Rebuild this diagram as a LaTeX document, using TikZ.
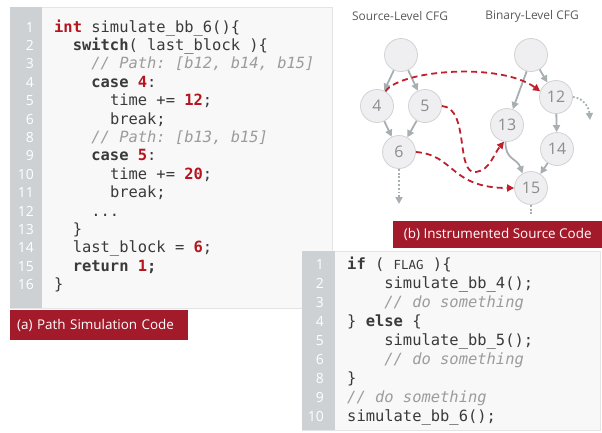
\documentclass[tikz,border=0pt]{standalone}
\usepackage{fontspec}
\setsansfont{Open Sans}
\setmonofont{DejaVu Sans Mono}
\usepackage{xcolor}
\usetikzlibrary{arrows.meta, positioning, calc}

\definecolor{panelbg}{HTML}{F8F8F8}
\definecolor{panelline}{HTML}{E4E4E4}
\definecolor{gutter}{HTML}{CDD1D4}
\definecolor{capred}{HTML}{A31B2B}
\definecolor{codegray}{HTML}{3A3A3A}
\definecolor{cmtgray}{HTML}{9C9C9C}
\definecolor{numred}{HTML}{B4151F}
\definecolor{nodefill}{HTML}{EFEFF1}
\definecolor{nodedraw}{HTML}{D2D2D2}
\definecolor{nodetext}{HTML}{8C8C8C}
\definecolor{edgegray}{HTML}{A8AFB2}
\definecolor{dashred}{HTML}{C01F2C}
\definecolor{titlegray}{HTML}{5A5A5A}

\newcommand{\kw}[1]{\textbf{#1}}
\newcommand{\cnum}[1]{\textcolor{numred}{\textbf{#1}}}
\newcommand{\cmt}[1]{\textcolor{cmtgray}{\itshape #1}}

\tikzset{
    codeline/.style={anchor=mid west, inner sep=0pt, text=codegray,
        font=\ttfamily\fontsize{15.5}{17}\selectfont},
    lineno/.style={anchor=mid east, inner sep=0pt, text=white,
        font=\sffamily\fontsize{14}{16}\selectfont},
    cfgnode/.style={circle, minimum size=33bp, inner sep=0pt, fill=nodefill,
        draw=nodedraw, line width=0.8bp, text=nodetext,
        font=\sffamily\fontsize{16}{18}\selectfont},
    cfgedge/.style={draw=edgegray, line width=1.8bp,
        -{Triangle[length=7bp,width=7bp]}},
    pathedge/.style={draw=dashred, line width=1.8bp, dash pattern=on 6bp off 4bp,
        -{Triangle[length=7bp,width=7bp]}},
    caption/.style={fill=capred, text=white, inner sep=0pt,
        font=\sffamily\fontsize{13.5}{15}\selectfont},
    cfgtitle/.style={text=titlegray, font=\sffamily\fontsize{12}{14}\selectfont}
}

\begin{document}
\begin{tikzpicture}[x=1bp, y=-1bp]
    \useasboundingbox (0,0) rectangle (602,432);

    % (a) path simulation code
    \draw[fill=panelbg, draw=panelline] (10,7) rectangle (332,308);
    \fill[gutter] (10,7) rectangle (42,308);
    \foreach \n [count=\i from 0] in {1,2,3,4,5,6,8,9,10,11,12,13,14,15,16}
        \node[lineno] (la\n) at (34, 30+18.4*\i) {\n};
    \node[codeline] (ca1) at (54, 30) {\cnum{int} simulate\_bb\_6()\{};
    \node[codeline] (ca2) at (54+2*9.3, 48.4) {\kw{switch}( last\_block )\{};
    \node[codeline] (ca3) at (54+4*9.3, 66.8) {\cmt{// Path: [b12, b14, b15]}};
    \node[codeline] (ca4) at (54+4*9.3, 85.2) {\kw{case} \cnum{4}:};
    \node[codeline] (ca5) at (54+6*9.3, 103.6) {time += \cnum{12};};
    \node[codeline] (ca6) at (54+6*9.3, 122) {break;};
    \node[codeline] (ca8) at (54+4*9.3, 140.4) {\cmt{// Path: [b13, b15]}};
    \node[codeline] (ca9) at (54+4*9.3, 158.8) {\kw{case} \cnum{5}:};
    \node[codeline] (ca10) at (54+6*9.3, 177.2) {time += \cnum{20};};
    \node[codeline] (ca11) at (54+6*9.3, 195.6) {break;};
    \node[codeline] (ca12) at (54+4*9.3, 214) {...};
    \node[codeline] (ca13) at (54+2*9.3, 232.4) {\}};
    \node[codeline] (ca14) at (54+2*9.3, 250.8) {last\_block = \cnum{6};};
    \node[codeline] (ca15) at (54+2*9.3, 269.2) {\kw{return} \cnum{1}\kw{;}};
    \node[codeline] (ca16) at (54, 287.6) {\}};
    \node[caption, minimum width=178bp, minimum height=30bp, anchor=north west,
        text width=164bp, align=left] (capa) at (10,310) {(a) Path Simulation Code};

    % CFGs
    \node[cfgtitle] (srctitle) at (400,16) {Source-Level CFG};
    \node[cfgtitle] (bintitle) at (532,16) {Binary-Level CFG};

    \node[cfgnode] (s0) at (401,55) {};
    \node[cfgnode] (s4) at (377,106) {4};
    \node[cfgnode] (s5) at (425,106) {5};
    \node[cfgnode] (s6) at (399,152) {6};
    \node[cfgnode] (b0) at (531,55) {};
    \node[cfgnode] (b12) at (556,97) {12};
    \node[cfgnode] (b13) at (507,125) {13};
    \node[cfgnode] (b14) at (557,149) {14};
    \node[cfgnode] (b15) at (531,188) {15};
    \coordinate (s6out) at (399,204);
    \coordinate (b12out) at (590,120);
    \coordinate (b15out) at (531,214);

    \draw[cfgedge] (s0) -- (s4);
    \draw[cfgedge] (s0) -- (s5);
    \draw[cfgedge] (s4) -- (s6);
    \draw[cfgedge] (s5) -- (s6);
    \draw[cfgedge] (b0) -- (b12);
    \draw[cfgedge] (b0.-105) -- (b13);
    \draw[cfgedge] (b12) -- (b14);
    \draw[cfgedge] (b14) -- (b15);
    \draw[cfgedge] (b13.-95) .. controls (505,160) and (517,158) .. (b15.120);
    \draw[cfgedge, dotted] (s6) -- (s6out);
    \draw[cfgedge, dotted] (b12.east) .. controls (584,98) and (589,108) .. (b12out);
    \draw[draw=edgegray, line width=1.8bp, dotted] (b15) -- (b15out);

    \draw[pathedge] (s4.60) .. controls (400,70) and (500,62) .. (b12.160);
    \draw[pathedge] (s5.east) .. controls (470,108) and (455,175) .. (476,172)
        .. controls (490,170) and (493,155) .. (b13.-100);
    \draw[pathedge] (s6.east) .. controls (455,155) and (450,188) .. (b15.west);

    \node[caption, minimum width=209bp, minimum height=27bp, anchor=north west]
        (capb) at (393,221) {(b) Instrumented Source Code};

    % instrumented source code
    \draw[fill=panelbg, draw=panelline] (302,251) rectangle (600,430);
    \fill[gutter] (302,251) rectangle (335,430);
    \foreach \n [count=\i from 0] in {1,2,3,4,5,6,8,9,10}
        \node[lineno] (lb\n) at (324, 267+19*\i) {\n};
    \node[codeline] (cb1) at (347, 267) {\kw{if} ( {\fontsize{12.5}{14}\selectfont FLAG} )\{};
    \node[codeline] (cb2) at (347+4*9.3, 286) {simulate\_bb\_4();};
    \node[codeline] (cb3) at (347+4*9.3, 305) {\cmt{// do something}};
    \node[codeline] (cb4) at (347, 324) {\} \kw{else} \{};
    \node[codeline] (cb5) at (347+4*9.3, 343) {simulate\_bb\_5();};
    \node[codeline] (cb6) at (347+4*9.3, 362) {\cmt{// do something}};
    \node[codeline] (cb8) at (347, 381) {\}};
    \node[codeline] (cb9) at (347, 400) {\cmt{// do something}};
    \node[codeline] (cb10) at (347, 419) {simulate\_bb\_6();};
\end{tikzpicture}
\end{document}
